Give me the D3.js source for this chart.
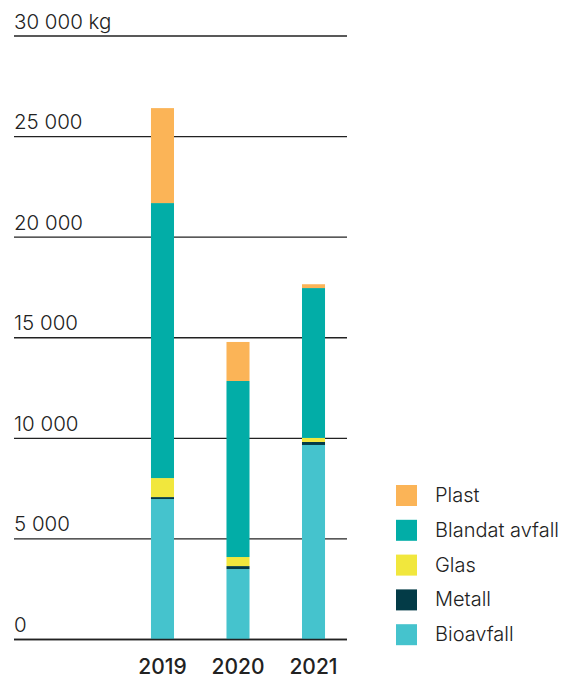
<!DOCTYPE html>
<html>
<head>
<meta charset="utf-8">
<script src="https://cdn.jsdelivr.net/npm/d3@7"></script>
<style>
  body { margin: 0; background: #fff; }
  text { font-family: Inter, "Noto Sans", sans-serif; fill: #222; }
</style>
</head>
<body>
<div class="chart"></div>
<script>
// data (kg)
var years = ["2019", "2020", "2021"];
var categories = ["Bioavfall", "Metall", "Glas", "Blandat avfall", "Plast"];
var bioavfall = [6980, 3500, 9670];
var metall = [100, 150, 150];
var glas = [945, 450, 200];
var blandat = [13670, 8750, 7450];
var plast = [4720, 1940, 190];
var tickValues = [0, 5000, 10000, 15000, 20000, 25000, 30000];
var tickLabels = ["0", "5 000", "10 000", "15 000", "20 000", "25 000", "30 000 kg"];
var colors = ["#45c3cd", "#033b47", "#f1e73d", "#02ada7", "#fbb457"];

var W = 562, H = 678;
var m = {left: 14, right: 347, top: 36, bottom: 639.5};

var svg = d3.select(".chart").append("svg")
    .attr("width", W).attr("height", H);

var y = d3.scaleLinear().domain([0, 30000]).range([m.bottom, m.top]);
var x = d3.scaleBand().domain(years).range([98.5, 377.5]).padding(0.695);

var table = years.map(function(yr, i) {
  return {year: yr, "Bioavfall": bioavfall[i], "Metall": metall[i], "Glas": glas[i],
          "Blandat avfall": blandat[i], "Plast": plast[i]};
});
var stack = d3.stack().keys(categories)(table);
var color = d3.scaleOrdinal().domain(categories).range(colors);

// grid lines + labels
var grid = svg.append("g");
grid.selectAll("line").data(tickValues).enter().append("line")
    .attr("x1", m.left).attr("x2", m.right)
    .attr("y1", function(d) { return y(d); })
    .attr("y2", function(d) { return y(d); })
    .attr("stroke", "#222").attr("stroke-width", 1.4);
grid.selectAll("text").data(tickValues).enter().append("text")
    .attr("x", m.left).attr("y", function(d) { return y(d) - 7.5; })
    .attr("font-size", 20.5).attr("font-weight", 300)
    .text(function(d, i) { return tickLabels[i]; });

// bars
svg.append("g").selectAll("g").data(stack).enter().append("g")
    .attr("fill", function(d) { return color(d.key); })
  .selectAll("rect").data(function(d) { return d; }).enter().append("rect")
    .attr("x", function(d) { return x(d.data.year); })
    .attr("width", x.bandwidth())
    .attr("y", function(d) { return y(d[1]); })
    .attr("height", function(d) { return y(d[0]) - y(d[1]); });

// baseline drawn over the bars
svg.append("line").attr("x1", m.left).attr("x2", m.right)
    .attr("y1", y(0)).attr("y2", y(0))
    .attr("stroke", "#222").attr("stroke-width", 1.4);

// year labels
svg.append("g").selectAll("text").data(years).enter().append("text")
    .attr("x", function(d) { return x(d) + x.bandwidth() / 2; })
    .attr("y", 674)
    .attr("text-anchor", "middle")
    .attr("font-size", 21).attr("font-weight", 500)
    .text(function(d) { return d; });

// legend, top to bottom Plast..Bioavfall
var legendItems = categories.slice().reverse();
var legend = svg.append("g").selectAll("g").data(legendItems).enter().append("g")
    .attr("transform", function(d, i) { return "translate(396," + (485 + i * 34.8) + ")"; });
legend.append("rect").attr("width", 21).attr("height", 21)
    .attr("fill", function(d) { return color(d); });
legend.append("text").attr("x", 39).attr("y", 17)
    .attr("font-size", 20).attr("font-weight", 300)
    .text(function(d) { return d; });
</script>
</body>
</html>
